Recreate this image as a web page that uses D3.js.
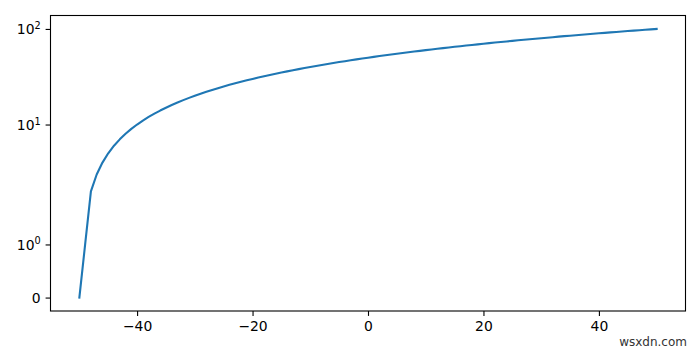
<!DOCTYPE html>
<html>
<head>
<meta charset="utf-8">
<script src="https://cdn.jsdelivr.net/npm/d3@7"></script>
<style>
  body { margin: 0; background: #fff; }
  text { font-family: "DejaVu Sans", sans-serif; }
</style>
</head>
<body>
<svg id="chart" width="700" height="350"></svg>
<script>
// data (x from -50 to 50, y on a symlog axis)
var xValues = [-50, -49, -48, -47, -46, -45, -44, -43, -42, -41,
  -40, -39, -38, -37, -36, -35, -34, -33, -32, -31,
  -30, -29, -28, -27, -26, -25, -24, -23, -22, -21,
  -20, -19, -18, -17, -16, -15, -14, -13, -12, -11,
  -10, -9, -8, -7, -6, -5, -4, -3, -2, -1,
  0, 1, 2, 3, 4, 5, 6, 7, 8, 9,
  10, 11, 12, 13, 14, 15, 16, 17, 18, 19,
  20, 21, 22, 23, 24, 25, 26, 27, 28, 29,
  30, 31, 32, 33, 34, 35, 36, 37, 38, 39,
  40, 41, 42, 43, 44, 45, 46, 47, 48, 49, 50];
var yValues = [0, 1, 2, 3, 4, 5, 6, 7, 8, 9,
  10, 11, 12, 13, 14, 15, 16, 17, 18, 19,
  20, 21, 22, 23, 24, 25, 26, 27, 28, 29,
  30, 31, 32, 33, 34, 35, 36, 37, 38, 39,
  40, 41, 42, 43, 44, 45, 46, 47, 48, 49,
  50, 51, 52, 53, 54, 55, 56, 57, 58, 59,
  60, 61, 62, 63, 64, 65, 66, 67, 68, 69,
  70, 71, 72, 73, 74, 75, 76, 77, 78, 79,
  80, 81, 82, 83, 84, 85, 86, 87, 88, 89,
  90, 91, 92, 93, 94, 95, 96, 97, 98, 99, 100];
var xTicks = [-40, -20, 0, 20, 40];
var yTicks = [0, 1, 10, 100];
var yTickLabels = [["0", ""], ["10", "0"], ["10", "1"], ["10", "2"]];

var linthresh = 2, linscale = 1;
var linscaleAdj = linscale / (1 - 1 / 10);
var symT = function(v) {
  var a = Math.abs(v);
  if (a <= linthresh) return v * linscaleAdj;
  return Math.sign(v) * linthresh * (linscaleAdj + Math.log10(a / linthresh));
};

var svg = d3.select("#chart");
var plotLeft = 50.5, plotRight = 685.5, plotTop = 15.5, plotBottom = 311;
var fontPx = 13.9, tickLen = 4.9, pad = 4.9;

var xMin = d3.min(xValues), xMax = d3.max(xValues);
var xm = (xMax - xMin) * 0.05;
var x = d3.scaleLinear().domain([xMin - xm, xMax + xm]).range([plotLeft, plotRight]);

var tMin = symT(d3.min(yValues)), tMax = symT(d3.max(yValues));
var tm = (tMax - tMin) * 0.05;
var y = d3.scaleLinear().domain([tMin - tm, tMax + tm]).range([plotBottom, plotTop]);

var line = d3.line()
  .x(function(d, i) { return x(xValues[i]); })
  .y(function(d) { return y(symT(d)); });

svg.append("path")
  .datum(yValues)
  .attr("d", line)
  .attr("fill", "none")
  .attr("stroke", "#1f77b4")
  .attr("stroke-width", 2.1)
  .attr("stroke-linejoin", "round")
  .attr("stroke-linecap", "square");

// frame
svg.append("rect")
  .attr("x", plotLeft).attr("y", plotTop)
  .attr("width", plotRight - plotLeft).attr("height", plotBottom - plotTop)
  .attr("fill", "none").attr("stroke", "#000").attr("stroke-width", 1.1);

// x axis
var xAxis = d3.axisBottom(x)
  .tickValues(xTicks)
  .tickSize(tickLen)
  .tickPadding(pad)
  .tickFormat(function(d) { return d < 0 ? "\u2212" + Math.abs(d) : String(d); });
var gx = svg.append("g").attr("transform", "translate(0," + plotBottom + ")").call(xAxis);
gx.select(".domain").remove();
gx.selectAll(".tick line").attr("stroke", "#000").attr("stroke-width", 1.1);
gx.selectAll(".tick text").attr("font-size", fontPx).attr("fill", "#000")
  .attr("font-family", "DejaVu Sans");

// y axis
var yAxis = d3.axisLeft(y)
  .tickValues(yTicks.map(symT))
  .tickSize(tickLen)
  .tickPadding(pad)
  .tickFormat("");
var gy = svg.append("g").attr("transform", "translate(" + plotLeft + ",0)").call(yAxis);
gy.select(".domain").remove();
gy.selectAll(".tick line").attr("stroke", "#000").attr("stroke-width", 1.1);
gy.selectAll(".tick").each(function(d, i) {
  var t = d3.select(this).select("text")
    .attr("font-size", fontPx).attr("fill", "#000")
    .attr("font-family", "DejaVu Sans")
    .attr("x", -(tickLen + pad))
    .attr("dy", "0.35em")
    .attr("text-anchor", "end");
  var lab = yTickLabels[i];
  t.text(null);
  t.append("tspan").text(lab[0]);
  if (lab[1]) {
    t.append("tspan").attr("font-size", fontPx * 0.7).attr("dy", "-0.55em").text(lab[1]);
  }
});

// watermark
svg.append("text")
  .attr("x", 687).attr("y", 346)
  .attr("text-anchor", "end")
  .attr("font-size", 12)
  .attr("font-family", "Liberation Sans, Arial, sans-serif")
  .attr("fill", "#333")
  .text("wsxdn.com");
</script>
</body>
</html>
